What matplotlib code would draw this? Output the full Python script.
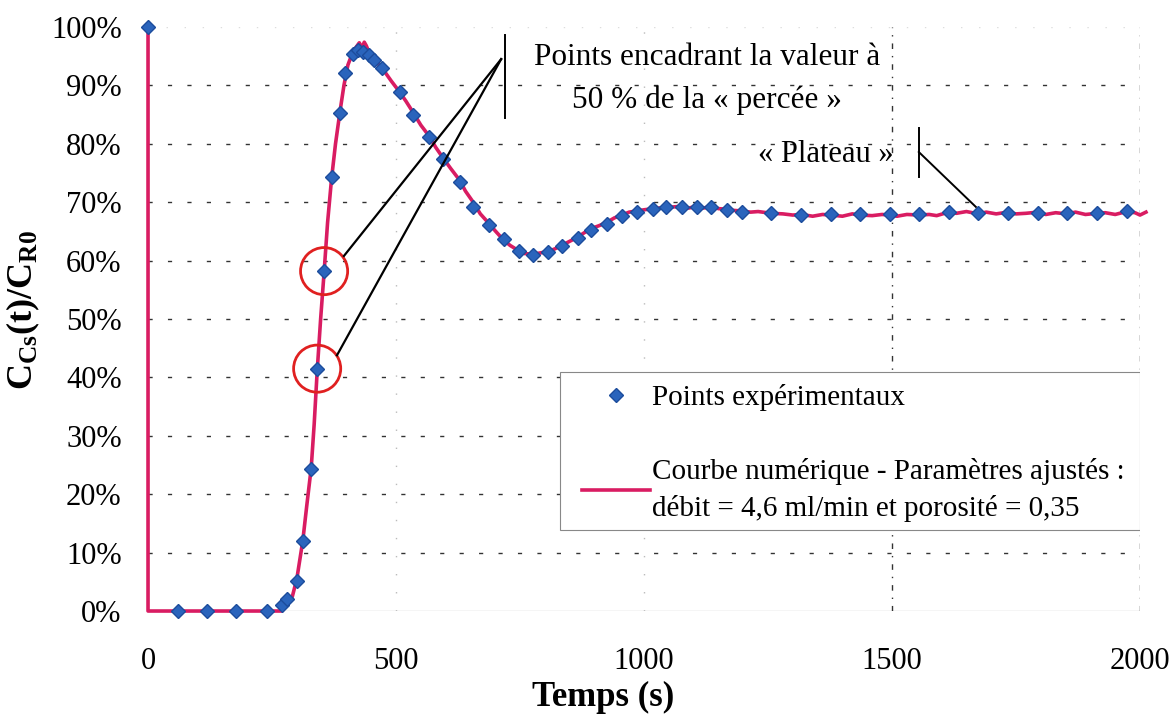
import matplotlib
matplotlib.use("Agg")
import matplotlib.pyplot as plt
from matplotlib.patches import Rectangle

plt.rcParams['font.family'] = ['Liberation Serif', 'DejaVu Serif']
plt.rcParams['mathtext.fontset'] = 'custom'
plt.rcParams['mathtext.rm'] = 'Liberation Serif'
plt.rcParams['mathtext.bf'] = 'Liberation Serif:bold'

# experimental points (s, %)
exp_t = [0, 60, 118, 177, 239, 271, 281, 300, 313, 329, 341, 355, 370, 387, 397,
         414, 424, 433, 446, 455, 472, 509, 535, 567, 594, 628, 655, 687, 717, 748,
         776, 807, 835, 866, 894, 926, 955, 985, 1018, 1044, 1077, 1106, 1136, 1167,
         1197, 1257, 1317, 1376, 1435, 1495, 1555, 1614, 1674, 1733, 1794, 1852,
         1914, 1973]
exp_y = [100, 0, 0, 0, 0, 1, 2, 5.2, 12, 24.3, 41.5, 58.2, 74.4, 85.2, 92.2,
         95.4, 96.0, 95.8, 95.2, 94.4, 93.0, 88.8, 85.0, 81.1, 77.4, 73.4, 69.2, 66.1, 63.7, 61.7,
         61.0, 61.4, 62.5, 63.8, 65.2, 66.2, 67.7, 68.3, 68.8, 69.2, 69.2, 69.2, 69.2, 68.7,
         68.4, 68.2, 67.8, 67.9, 67.9, 67.9, 67.9, 68.3, 68.2, 68.2, 68.2, 68.2,
         68.2, 68.5]

# numerical curve (s, %)
num_t = [0, 0, 100, 200, 270, 282, 291, 300, 312, 320, 329, 335, 341, 348, 355, 362,
         370, 378, 387, 395, 403, 412, 420, 426, 431, 436, 440, 446, 455, 465, 475,
         490, 507, 520, 535, 550, 567, 580, 593, 610, 628, 640, 654, 670, 688, 700,
         716, 730, 749, 760, 775, 790, 808, 820, 834, 850, 866, 880, 894, 910, 926,
         940, 955, 970, 985, 1000, 1018, 1030, 1044, 1060, 1077, 1090, 1106, 1120,
         1136, 1150, 1167, 1180, 1197, 1215, 1230, 1257, 1280, 1300, 1317, 1340,
         1360, 1376, 1400, 1420, 1435, 1460, 1480, 1495, 1510, 1530, 1555, 1575,
         1590, 1614, 1630, 1650, 1674, 1690, 1710, 1733, 1750, 1770, 1794, 1810,
         1830, 1852, 1870, 1890, 1914, 1930, 1950, 1973, 1990, 2000, 2012]
num_y = [100, 0, 0, 0, 0, 1.2, 2.5, 5.5, 12, 18, 24.5, 32, 41, 50, 58, 66.5,
         74, 80, 85.5, 90, 93.5, 95.5, 96.6, 97.3, 96.4, 97.4, 96.8, 95.6, 94.6, 93.6, 92.6,
         90.8, 88.9, 87.3, 85.3, 83.2, 81.3, 79.4, 77.8, 75.8, 73.8, 71.9, 70.2, 68.0, 66.3, 65.1,
         63.6, 62.6, 61.6, 61.2, 61.1, 61.3, 61.6, 62.0, 62.6, 63.3, 64.0, 64.8, 65.5, 66.0, 66.6,
         67.3, 67.8, 68.3, 68.5, 68.7, 68.9, 69.0, 69.1, 69.2, 69.3, 69.0, 69.3, 69.0,
         69.3, 68.9, 68.8, 68.6, 68.5, 68.3, 68.4, 68.1, 68.0, 67.8, 67.9, 67.6,
         67.9, 67.8, 67.6, 68.0, 67.8, 67.7, 67.9, 67.8, 67.6, 67.9, 67.8, 67.9,
         67.7, 68.3, 68.1, 68.4, 68.0, 68.3, 68.0, 68.3, 68.0, 68.1, 68.3, 67.9,
         68.2, 68.0, 68.3, 67.9, 68.1, 68.2, 67.9, 68.4, 68.2, 67.8, 68.3]

x_ticks = [0, 500, 1000, 1500, 2000]
y_ticks = [0, 10, 20, 30, 40, 50, 60, 70, 80, 90, 100]
y_labels = ['0%', '10%', '20%', '30%', '40%', '50%', '60%', '70%', '80%', '90%', '100%']
circled = [10, 11]  # points framing the 50 % value

red = '#D91C62'
blue = '#2A64BC'

fig = plt.figure(figsize=(11.72, 7.18), dpi=100)
ax = fig.add_axes([0.1263, 0.149, 0.8464, 0.8134])

# grid
for v in y_ticks[1:-1]:
    ax.axhline(v, color='#333333', lw=1.0, dashes=(3, 11), zorder=0)
ax.axhline(0, color='#cccccc', lw=1.0, zorder=0)
ax.axhline(100, color='#dddddd', lw=1.0, dashes=(1, 12), zorder=0)
for v in x_ticks[1:3]:
    ax.axvline(v, color='#bbbbbb', lw=1.0, dashes=(1, 12), zorder=0)
for v in x_ticks[3:]:
    ax.axvline(v, color='#333333', lw=1.0, dashes=(4, 5, 1, 5), zorder=0)

ax.plot(num_t, num_y, color=red, lw=2.6, clip_on=False, zorder=3,
        label='Courbe numérique - Paramètres ajustés :\ndébit = 4,6 ml/min et porosité = 0,35')
ax.plot(exp_t, exp_y, ls='none', marker='D', ms=7.2, mfc=blue, mec='#1C4C9C', mew=1.0,
        clip_on=False, zorder=4, label='Points expérimentaux')

ax.scatter([exp_t[i] for i in circled], [exp_y[i] for i in circled], s=1150,
           facecolors='none', edgecolors='#E02020', linewidths=2.0, zorder=5, clip_on=False)

# annotation: 50 % breakthrough
ax.plot([712, 395], [94.5, 60.8], color='black', lw=1.6, zorder=6)
ax.plot([712, 381], [94.5, 43.8], color='black', lw=1.6, zorder=6)
ax.plot([720, 720], [98.6, 84.4], color='black', lw=1.4, zorder=6)
ax.text(1127, 94.7, 'Points encadrant la valeur à', ha='center', va='center', fontsize=22.5)
ax.text(1127, 87.5, '50 % de la « percée »', ha='center', va='center', fontsize=22.5)

# annotation: plateau
ax.plot([1554, 1554], [82.7, 74.3], color='black', lw=1.4, zorder=6)
ax.plot([1554, 1669], [78.6, 69.2], color='black', lw=1.4, zorder=6)
ax.text(1367, 78.1, '« Plateau »', ha='center', va='center', fontsize=22)

ax.set_xlim(0, 2000)
ax.set_ylim(0, 100)
ax.set_xticks(x_ticks)
ax.set_yticks(y_ticks)
ax.set_yticklabels(y_labels)
ax.tick_params(axis='both', length=0, labelsize=22)
ax.tick_params(axis='x', pad=26)
ax.tick_params(axis='y', pad=19)
for s in ax.spines.values():
    s.set_visible(False)

ax.set_xlabel('Temps (s)', fontsize=25, fontweight='bold')
ax.xaxis.set_label_coords(0.459, -0.119)
ax.set_ylabel(r'$\mathbf{C_{Cs}(t)/C_{R0}}$', fontsize=26)
ax.yaxis.set_label_coords(-0.107, 0.515)

# legend box drawn separately so the entries can sit freely inside it
box = Rectangle((0.4153, 0.1387), 0.5847, 0.2705, transform=ax.transAxes,
                facecolor='white', edgecolor='#888888', lw=0.8, zorder=7)
ax.add_patch(box)

handles, labels = ax.get_legend_handles_labels()
leg = ax.legend(handles[::-1], labels[::-1], loc='upper left',
                bbox_to_anchor=(0.4375, 0.389), frameon=False,
                fontsize=21, handlelength=2.34, handletextpad=0.07,
                labelspacing=1.6, borderpad=0, borderaxespad=0)
for t in leg.get_texts():
    t.set_linespacing(1.5)
leg.set_zorder(8)

fig.savefig('out.png', dpi=100)
